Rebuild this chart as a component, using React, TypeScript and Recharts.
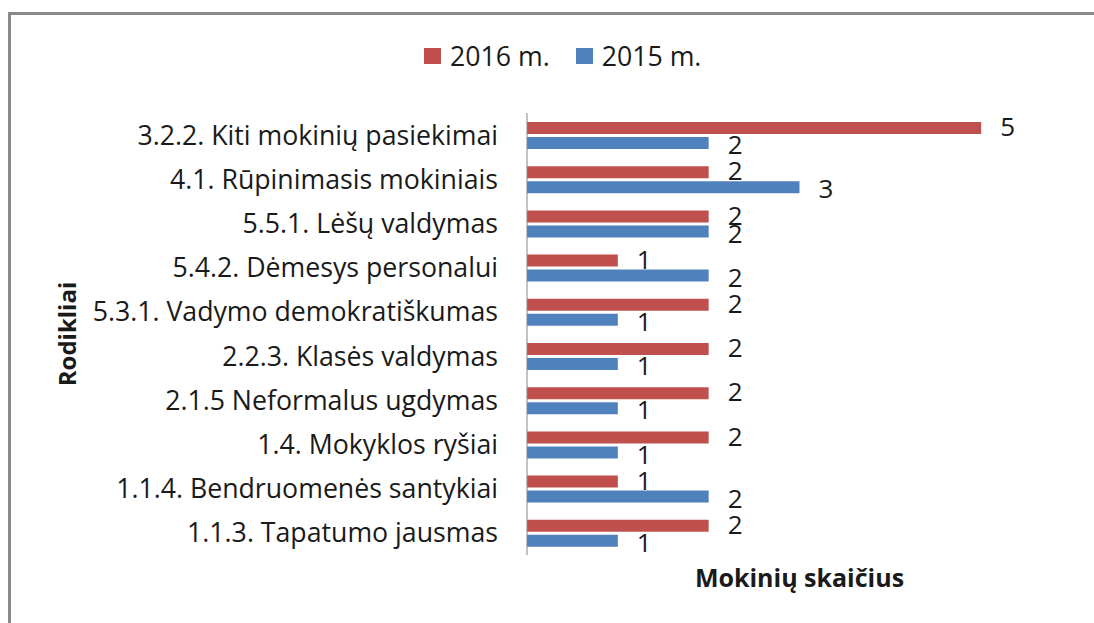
import React from 'react';
import { BarChart, Bar, XAxis, YAxis, Legend, LabelList, Label } from 'recharts';

const categories = [
  '3.2.2. Kiti mokinių pasiekimai',
  '4.1. Rūpinimasis mokiniais',
  '5.5.1. Lėšų valdymas',
  '5.4.2. Dėmesys personalui',
  '5.3.1. Vadymo demokratiškumas',
  '2.2.3. Klasės valdymas',
  '2.1.5 Neformalus ugdymas',
  '1.4. Mokyklos ryšiai',
  '1.1.4. Bendruomenės santykiai',
  '1.1.3. Tapatumo jausmas',
];
const values2016 = [5, 2, 2, 1, 2, 2, 2, 2, 1, 2];
const values2015 = [2, 3, 2, 2, 1, 1, 1, 1, 2, 1];
const seriesNames = ['2016 m.', '2015 m.'];
const seriesColors = ['#C0504D', '#4F81BD'];
const xDomain = [0, 6];
const xTitle = 'Mokinių skaičius';
const yTitle = 'Rodikliai';

const data = categories.map((c, i) => ({ name: c, s2016: values2016[i], s2015: values2015[i] }));

const FONT = '"Open Sans", sans-serif';
const TEXT = '#1a1a1a';

const LegendContent = () => (
  <div style={{ display: 'flex', justifyContent: 'flex-start', paddingLeft: 424, fontFamily: FONT, fontSize: 26.7, color: TEXT, lineHeight: '30px' }}>
    {seriesNames.map((n, i) => (
      <div key={n} style={{ display: 'flex', alignItems: 'center', marginRight: 26 }}>
        <span style={{ display: 'inline-block', width: 17, height: 16, background: seriesColors[i], marginRight: 9 }} />
        <span>{n}</span>
      </div>
    ))}
  </div>
);

export default function App() {
  return (
    <div style={{ position: 'absolute', left: 0, top: 0, width: 1094, height: 623, background: '#fff', overflow: 'hidden' }}>
      <div style={{ position: 'absolute', left: 8, top: 12, width: 1200, height: 700, borderTop: '3px solid #8a8a8a', borderLeft: '3px solid #8a8a8a' }} />
      <div style={{ position: 'absolute', left: 0, top: 0 }}>
        <BarChart
          width={1094}
          height={623}
          data={data}
          layout="vertical"
          margin={{ top: 113, right: 22, bottom: 0, left: 0 }}
          barSize={12}
          barGap={3}
        >
          <Legend verticalAlign="middle" align="center" wrapperStyle={{ top: 41, left: 0, width: 1094 }} content={() => <LegendContent />} />
          <XAxis type="number" domain={xDomain} axisLine={false} tickLine={false} tick={false} height={68}>
            <Label value={xTitle} position="center" dy={-11} style={{ fontFamily: FONT, fontSize: 25, fontWeight: 700, fill: TEXT }} />
          </XAxis>
          <YAxis
            type="category"
            dataKey="name"
            width={527}
            interval={0}
            tickSize={0}
            tickMargin={29}
            tickLine={false}
            axisLine={{ stroke: '#868686', strokeWidth: 1 }}
            tick={{ fontFamily: FONT, fontSize: 26.7, fill: TEXT }}
          >
            <Label value={yTitle} angle={-90} position="center" dx={-196} style={{ fontFamily: FONT, fontSize: 24, fontWeight: 700, fill: TEXT }} />
          </YAxis>
          <Bar dataKey="s2016" name={seriesNames[0]} fill={seriesColors[0]} isAnimationActive={false}>
            <LabelList dataKey="s2016" position="right" offset={19} dy={-1} style={{ fontFamily: FONT, fontSize: 26, fill: TEXT }} />
          </Bar>
          <Bar dataKey="s2015" name={seriesNames[1]} fill={seriesColors[1]} isAnimationActive={false}>
            <LabelList dataKey="s2015" position="right" offset={19} dy={2} style={{ fontFamily: FONT, fontSize: 26, fill: TEXT }} />
          </Bar>
        </BarChart>
      </div>
    </div>
  );
}
